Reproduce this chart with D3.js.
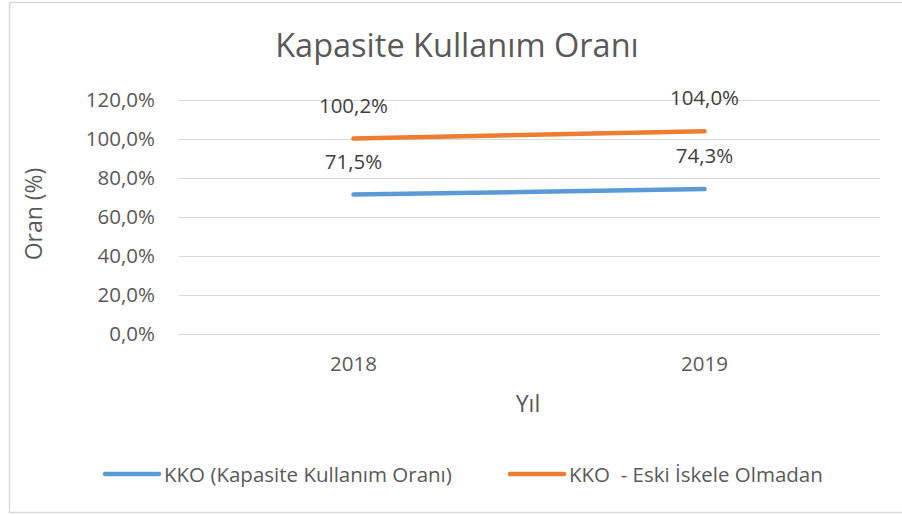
<!DOCTYPE html>
<html>
<head>
<meta charset="utf-8">
<script src="https://cdn.jsdelivr.net/npm/d3@7"></script>
<style>
  body { margin: 0; background: #fff; }
  text { font-family: "Open Sans", sans-serif; fill: #595959; white-space: pre; }
</style>
</head>
<body>
<svg id="chart" width="902" height="515"></svg>
<script>
var years = ["2018", "2019"];
var kko = [71.5, 74.3];
var kkoEski = [100.2, 104.0];
var yTicks = [0, 20, 40, 60, 80, 100, 120];

var series = [
    { name: "KKO (Kapasite Kullanım Oranı)", values: kko, color: "#5B9BD5" },
    { name: "KKO  - Eski İskele Olmadan", values: kkoEski, color: "#ED7D31" }
];

var dimensions = {
    width: 902,
    height: 515,
    margin: { top: 100, bottom: 181, left: 178, right: 22 }
}

var svg = d3.select("#chart")

// outer border
svg.append("rect")
   .attr("x", 9.5).attr("y", 2.5)
   .attr("width", 900).attr("height", 510)
   .attr("fill", "none").attr("stroke", "#d9d9d9").attr("stroke-width", 1.5)

var xScale = d3.scaleBand()
               .domain(years)
               .range([dimensions.margin.left, dimensions.width - dimensions.margin.right])

var yScale = d3.scaleLinear()
               .domain([0, 120])
               .range([dimensions.height - dimensions.margin.bottom, dimensions.margin.top])

var fmt = v => v.toFixed(1).replace(".", ",") + "%"

// gridlines + y labels
var yAxisGen = d3.axisLeft(yScale)
                 .tickValues(yTicks)
                 .tickSize(-(dimensions.width - dimensions.margin.left - dimensions.margin.right))
                 .tickPadding(23)
                 .tickFormat(fmt)
var yAxis = svg.append("g")
               .attr("transform", `translate(${dimensions.margin.left},0)`)
               .call(yAxisGen)
yAxis.select(".domain").remove()
yAxis.selectAll("line").attr("stroke", "#d9d9d9")
yAxis.selectAll("text").style("font-size", "20.5px").style("fill", "#595959")

var xAxisGen = d3.axisBottom(xScale).tickSize(0).tickPadding(22)
var xAxis = svg.append("g")
               .attr("transform", `translate(0,${dimensions.height - dimensions.margin.bottom})`)
               .call(xAxisGen)
xAxis.select(".domain").remove()
xAxis.selectAll("text").style("font-size", "20.5px").style("fill", "#595959")

var line = d3.line()
             .x((d, i) => xScale(years[i]) + xScale.bandwidth() / 2)
             .y(d => yScale(d))

svg.append("g")
   .selectAll("path")
   .data(series)
   .enter()
   .append("path")
   .attr("d", d => line(d.values))
   .attr("stroke", d => d.color)
   .attr("stroke-width", 4.5)
   .attr("stroke-linecap", "round")
   .attr("fill", "none")

// data labels
series.forEach(s => {
    svg.append("g")
       .selectAll("text")
       .data(s.values)
       .enter()
       .append("text")
       .attr("x", (d, i) => xScale(years[i]) + xScale.bandwidth() / 2)
       .attr("y", d => yScale(d) - 26)
       .attr("text-anchor", "middle")
       .style("font-size", "20.5px")
       .style("fill", "#404040")
       .text(d => fmt(d))
})

// title
svg.append("text")
   .attr("x", 457).attr("y", 57)
   .attr("text-anchor", "middle")
   .style("font-size", "32.5px")
   .text("Kapasite Kullanım Oranı")

// axis titles
svg.append("text")
   .attr("transform", "translate(42,214) rotate(-90)")
   .attr("text-anchor", "middle")
   .style("font-size", "23px")
   .text("Oran (%)")

svg.append("text")
   .attr("x", 528).attr("y", 412)
   .attr("text-anchor", "middle")
   .style("font-size", "23px")
   .text("Yıl")

// legend
var legendX = [105, 510]
var legend = svg.append("g")
                .selectAll("g")
                .data(series)
                .enter()
                .append("g")
                .attr("transform", (d, i) => `translate(${legendX[i]},474)`)
legend.append("line")
      .attr("x1", 0).attr("x2", 54)
      .attr("stroke", d => d.color)
      .attr("stroke-width", 4.5)
      .attr("stroke-linecap", "round")
legend.append("text")
      .attr("x", 59).attr("y", 7.5)
      .style("font-size", "20.5px")
      .text(d => d.name)
</script>
</body>
</html>
